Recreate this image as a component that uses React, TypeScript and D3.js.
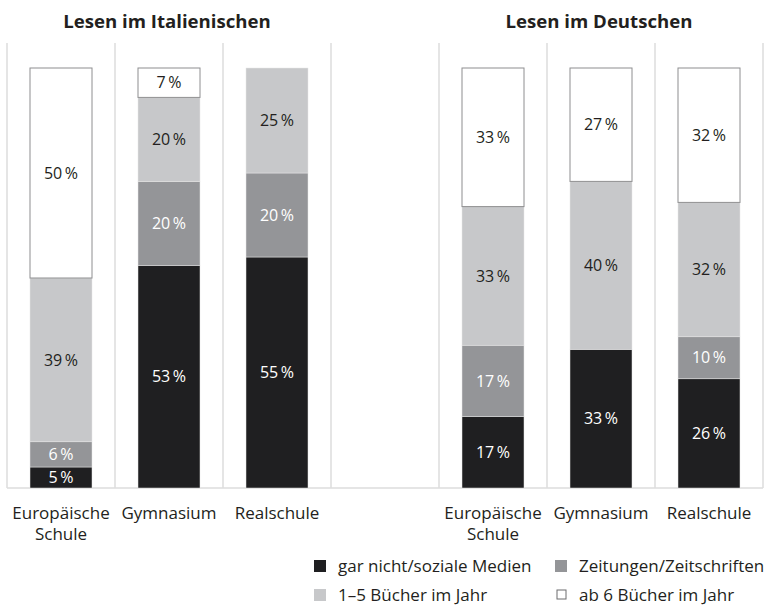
import React from "react";
import * as d3 from "d3";

const categories = ["Europäische Schule", "Gymnasium", "Realschule"];
const categoryLines = [["Europäische", "Schule"], ["Gymnasium"], ["Realschule"]];
const seriesNames = [
  "gar nicht/soziale Medien",
  "Zeitungen/Zeitschriften",
  "1–5 Bücher im Jahr",
  "ab 6 Bücher im Jahr",
];
const panelTitles = ["Lesen im Italienischen", "Lesen im Deutschen"];

// Italian reading, per category
const itGarNicht = [5, 53, 55];
const itZeitungen = [6, 20, 20];
const itBuecher15 = [39, 20, 25];
const itBuecher6 = [50, 7, 0];

// German reading, per category
const deGarNicht = [17, 33, 26];
const deZeitungen = [17, 0, 10];
const deBuecher15 = [33, 40, 32];
const deBuecher6 = [33, 27, 32];

const colors = ["#1f1f21", "#949598", "#c7c8ca", "#ffffff"];
const labelColors = ["#ffffff", "#ffffff", "#231f20", "#231f20"];
const FONT = "'Open Sans', sans-serif";

type Row = { cat: string; [k: string]: number | string };

function buildRows(a: number[], b: number[], c: number[], d: number[]): Row[] {
  return categories.map((cat, i) => ({
    cat,
    [seriesNames[0]]: a[i],
    [seriesNames[1]]: b[i],
    [seriesNames[2]]: c[i],
    [seriesNames[3]]: d[i],
  }));
}

const panels = [
  { title: panelTitles[0], rows: buildRows(itGarNicht, itZeitungen, itBuecher15, itBuecher6), range: [7, 331] },
  { title: panelTitles[1], rows: buildRows(deGarNicht, deZeitungen, deBuecher15, deBuecher6), range: [439, 763] },
];

const W = 765;
const H = 605;
const baseY = 488;
const topY = 68;
const gridTop = 43;
const barW = 62;

export default function App() {
  const y = d3.scaleLinear().domain([0, 100]).range([baseY, topY]);
  const stack = d3.stack<Row>().keys(seriesNames).value((d, k) => d[k] as number);

  return (
    <svg width={W} height={H} style={{ position: "absolute", left: 0, top: 0, background: "#fff" }} fontFamily={FONT}>
      <line x1={7} x2={763} y1={baseY} y2={baseY} stroke="#dcdcdc" strokeWidth={1.5} />
      {panels.map((p, pi) => {
        const x = d3.scaleBand<string>().domain(categories).range(p.range as [number, number]).padding(0);
        const series = stack(p.rows);
        const bounds = [...categories.map((c) => x(c) as number), p.range[1]];
        const cx = (p.range[0] + p.range[1]) / 2;
        return (
          <g key={pi}>
            <text x={cx - 2} y={28} textAnchor="middle" fontWeight="bold" fontSize={18.6} fill="#231f20">
              {p.title}
            </text>
            {bounds.map((bx, i) => (
              <line key={i} x1={bx} x2={bx} y1={gridTop} y2={baseY} stroke="#dcdcdc" strokeWidth={1.5} />
            ))}
            {series.map((s, si) =>
              s.map((d, ci) => {
                const v = d[1] - d[0];
                if (v <= 0) return null;
                const bx = (x(categories[ci]) as number) + (x.bandwidth() - barW) / 2;
                const y0 = y(d[0]);
                const y1 = y(d[1]);
                return (
                  <g key={`${si}-${ci}`}>
                    <rect
                      x={bx}
                      y={y1}
                      width={barW}
                      height={y0 - y1}
                      fill={colors[si]}
                      stroke={si === 3 ? "#8e8e90" : "#e6e6e6"}
                      strokeWidth={si === 3 ? 1 : 0.5}
                    />
                    <text
                      x={bx + barW / 2}
                      y={(y0 + y1) / 2}
                      dy="0.35em"
                      textAnchor="middle"
                      fontSize={16}
                      fill={labelColors[si]}
                    >
                      {`${v}\u2009%`}
                    </text>
                  </g>
                );
              })
            )}
            {categories.map((c, ci) => (
              <text key={c} x={(x(c) as number) + x.bandwidth() / 2} y={519} textAnchor="middle" fontSize={17} fill="#231f20">
                {categoryLines[ci].map((ln, li) => (
                  <tspan key={li} x={(x(c) as number) + x.bandwidth() / 2} dy={li === 0 ? 0 : 21}>
                    {ln}
                  </tspan>
                ))}
              </text>
            ))}
          </g>
        );
      })}
      {seriesNames.map((name, i) => {
        const col = i % 2;
        const row = Math.floor(i / 2);
        const sx = col === 0 ? 314 : 555;
        const sy = row === 0 ? 560 : 589;
        const isWhite = i === 3;
        return (
          <g key={name}>
            <rect
              x={isWhite ? sx + 2 : sx}
              y={isWhite ? sy + 1 : sy}
              width={isWhite ? 9 : 12}
              height={isWhite ? 9 : 12}
              fill={colors[i]}
              stroke={isWhite ? "#6d6d6f" : "none"}
              strokeWidth={1}
            />
            <text x={sx + 24} y={sy + 12} fontSize={17} fill="#231f20">
              {name}
            </text>
          </g>
        );
      })}
    </svg>
  );
}
